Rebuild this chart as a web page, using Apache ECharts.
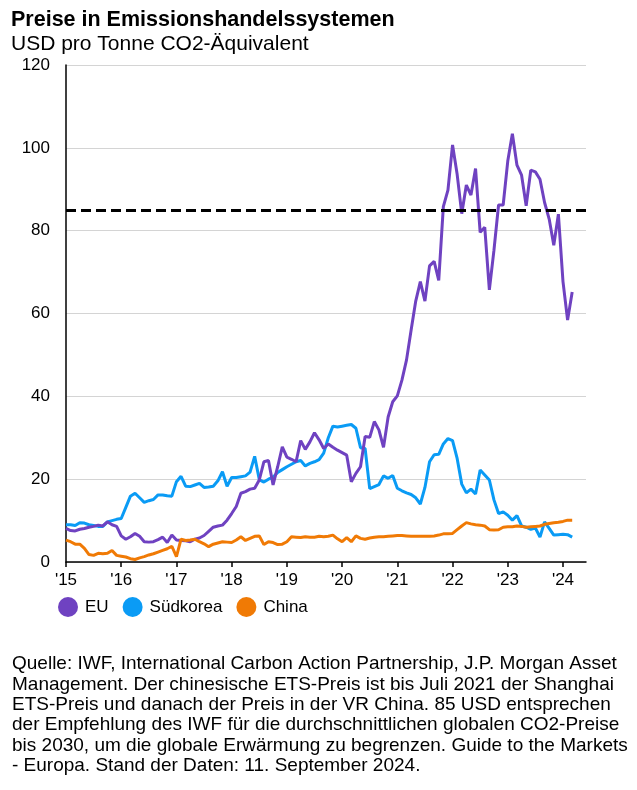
<!DOCTYPE html>
<html>
<head>
<meta charset="utf-8">
<script src="https://cdn.jsdelivr.net/npm/echarts@6/dist/echarts.min.js"></script>
<style>
html,body{margin:0;padding:0;background:#fff;}
#chart{width:637px;height:790px;}
</style>
</head>
<body>
<div id="chart"></div>
<script>
// Monthly categories Jan 2015 .. Jun 2024 (axis extends a little past the data)
const years = [2015,2016,2017,2018,2019,2020,2021,2022,2023,2024];
const monthsPerYear = ['01','02','03','04','05','06','07','08','09','10','11','12'];
const categories = [];
years.forEach(y => monthsPerYear.forEach(m => { if (y < 2024 || +m <= 6) categories.push(y + '-' + m); }));

// Year tick labels shown at each January
const yearLabels = ["'15","'16","'17","'18","'19","'20","'21","'22","'23","'24"];

// USD per tonne, monthly from Jan 2015 to Mar 2024
const eu = [
  8.1,7.6,7.5,7.9,8.1,8.4,8.6,8.9,8.7,9.7,9.0,8.6,
  6.3,5.5,6.1,6.9,6.2,4.9,4.8,4.9,5.4,6.0,4.7,6.5,
  5.3,5.2,5.1,4.9,5.5,5.8,6.4,7.4,8.4,8.7,8.9,10.1,
  11.7,13.4,16.6,17.0,17.6,17.8,19.8,24.2,24.5,18.6,23.0,27.8,
  25.3,24.8,24.2,29.3,27.2,29.0,31.2,29.5,27.4,28.5,27.7,27.0,
  26.4,25.8,19.4,21.4,23.0,30.3,30.1,33.9,31.9,27.7,35.0,38.7,
  40.1,43.9,48.8,56.0,63.0,67.7,63.0,71.5,72.6,68.0,85.8,89.8,
  100.7,93.6,84.1,91.0,88.6,95.0,79.6,80.8,65.7,75.3,86.2,86.2,
  96.8,103.4,95.8,93.4,86.0,94.6,94.2,92.4,86.8,82.8,76.5,84.0,
  67.7,58.4,65.2
];
const suedkorea = [
  9.0,9.0,8.8,9.5,9.4,9.0,8.8,8.6,8.6,9.7,10.0,10.3,
  10.5,13.2,15.9,16.6,15.5,14.4,14.8,15.1,16.2,16.2,16.0,15.9,
  19.4,20.7,18.3,18.2,18.6,19.0,18.0,18.1,18.3,19.6,21.8,18.3,
  20.4,20.4,20.6,20.8,21.7,25.5,19.9,19.3,20.0,20.5,21.6,22.3,
  23.0,23.6,24.2,24.5,23.2,23.8,24.2,24.7,26.3,30.0,32.8,32.6,
  32.8,33.0,33.2,32.3,27.6,27.4,17.7,18.2,18.7,20.8,20.2,20.9,
  17.8,17.2,16.7,16.3,15.5,14.0,18.0,24.2,25.9,26.0,28.5,29.8,
  29.3,25.0,18.8,16.7,17.6,16.4,22.2,21.0,19.8,15.0,11.7,12.1,
  11.3,10.1,11.2,8.7,8.4,7.9,8.2,6.0,9.7,8.1,6.5,6.6,
  6.7,6.6,6.0
];
const china = [
  5.3,4.9,4.3,4.3,3.3,1.8,1.6,2.1,2.0,2.1,2.8,1.6,
  1.4,1.2,0.8,0.6,1.0,1.3,1.7,2.0,2.4,2.8,3.2,3.8,
  1.3,5.5,5.2,5.3,5.5,4.9,4.4,3.7,4.3,4.6,4.9,4.8,
  4.7,5.3,6.1,5.2,5.7,6.2,6.3,4.2,4.9,4.7,4.2,4.3,
  4.9,6.1,6.0,5.9,6.1,6.0,6.0,6.2,6.1,6.2,6.5,5.6,
  4.9,5.9,4.9,6.3,5.7,5.5,5.8,6.0,6.1,6.1,6.2,6.3,
  6.4,6.4,6.3,6.2,6.2,6.2,6.2,6.2,6.3,6.5,6.8,6.8,
  6.9,7.8,8.7,9.5,9.2,9.0,8.9,8.7,7.8,7.7,7.8,8.4,
  8.5,8.5,8.7,8.6,8.4,8.5,8.6,8.7,9.1,9.3,9.5,9.6,
  9.8,10.1,10.1
];
const targetPrice = 85;

const seriesNames = ['EU','Südkorea','China'];
const colors = ['#6F42C1','#0A9BF5','#F07A05'];

const footnoteLines = [
  'Quelle: IWF, International Carbon Action Partnership, J.P. Morgan Asset',
  'Management. Der chinesische ETS-Preis ist bis Juli 2021 der Shanghai',
  'ETS-Preis und danach der Preis in der VR China. 85 USD entsprechen',
  'der Empfehlung des IWF für die durchschnittlichen globalen CO2-Preise',
  'bis 2030, um die globale Erwärmung zu begrenzen. Guide to the Markets',
  '- Europa. Stand der Daten: 11. September 2024.'
];

const font = '"Liberation Sans", Arial, sans-serif';
const chart = echarts.init(document.getElementById('chart'), null, {renderer:'canvas'});

const lineSeries = (name, data, color, extra) => Object.assign({
  name, type:'line', data, symbol:'none', smooth:false,
  lineStyle:{width:3, color}, itemStyle:{color},
  emphasis:{disabled:true}
}, extra || {});

chart.setOption({
  animation:false,
  textStyle:{fontFamily:font},
  title:[
    {text:'Preise in Emissionshandelssystemen', left:6, top:4,
     textStyle:{fontFamily:font, fontSize:21.5, fontWeight:'bold', color:'#000'}},
    {text:'USD pro Tonne CO2-Äquivalent', left:6, top:29,
     textStyle:{fontFamily:font, fontSize:21, fontWeight:'normal', color:'#000'}}
  ],
  legend:{
    data:seriesNames, left:53, top:592, icon:'circle',
    itemWidth:20, itemHeight:20, itemGap:14,
    textStyle:{fontFamily:font, fontSize:17, color:'#000', padding:[0,0,0,2]}
  },
  grid:{left:66, right:51, top:65, bottom:228, containLabel:false},
  xAxis:{
    type:'category', data:categories, boundaryGap:false,
    axisLine:{show:true, lineStyle:{color:'#000', width:1.5}},
    axisTick:{show:true, length:5, interval:(i)=> i % 12 === 0, lineStyle:{color:'#000', width:1.5}},
    axisLabel:{interval:(i)=> i % 12 === 0, formatter:(v, i)=> yearLabels[Math.floor(i/12)],
      fontFamily:font, fontSize:17, color:'#000', margin:10},
    splitLine:{show:false}
  },
  yAxis:{
    type:'value', min:0, max:120, interval:20,
    axisLine:{show:true, lineStyle:{color:'#000', width:1.5}},
    axisTick:{show:false},
    axisLabel:{fontFamily:font, fontSize:17, color:'#000', margin:16},
    splitLine:{show:true, lineStyle:{color:'#d4d4d4', width:1}}
  },
  series:[
    lineSeries('EU', eu, colors[0], {z:4}),
    lineSeries('Südkorea', suedkorea, colors[1], {z:3}),
    lineSeries('China', china, colors[2], {z:5,
      markLine:{silent:true, symbol:['none','none'], label:{show:false},
        lineStyle:{color:'#000', width:3, type:[10,5]},
        data:[{yAxis:targetPrice}], z:10}})
  ],
  graphic:[{
    type:'text', left:12, top:654,
    style:{text:footnoteLines.join('\n'), font:'19px ' + font, lineHeight:20.3, fill:'#000'}
  }]
});
</script>
</body>
</html>
